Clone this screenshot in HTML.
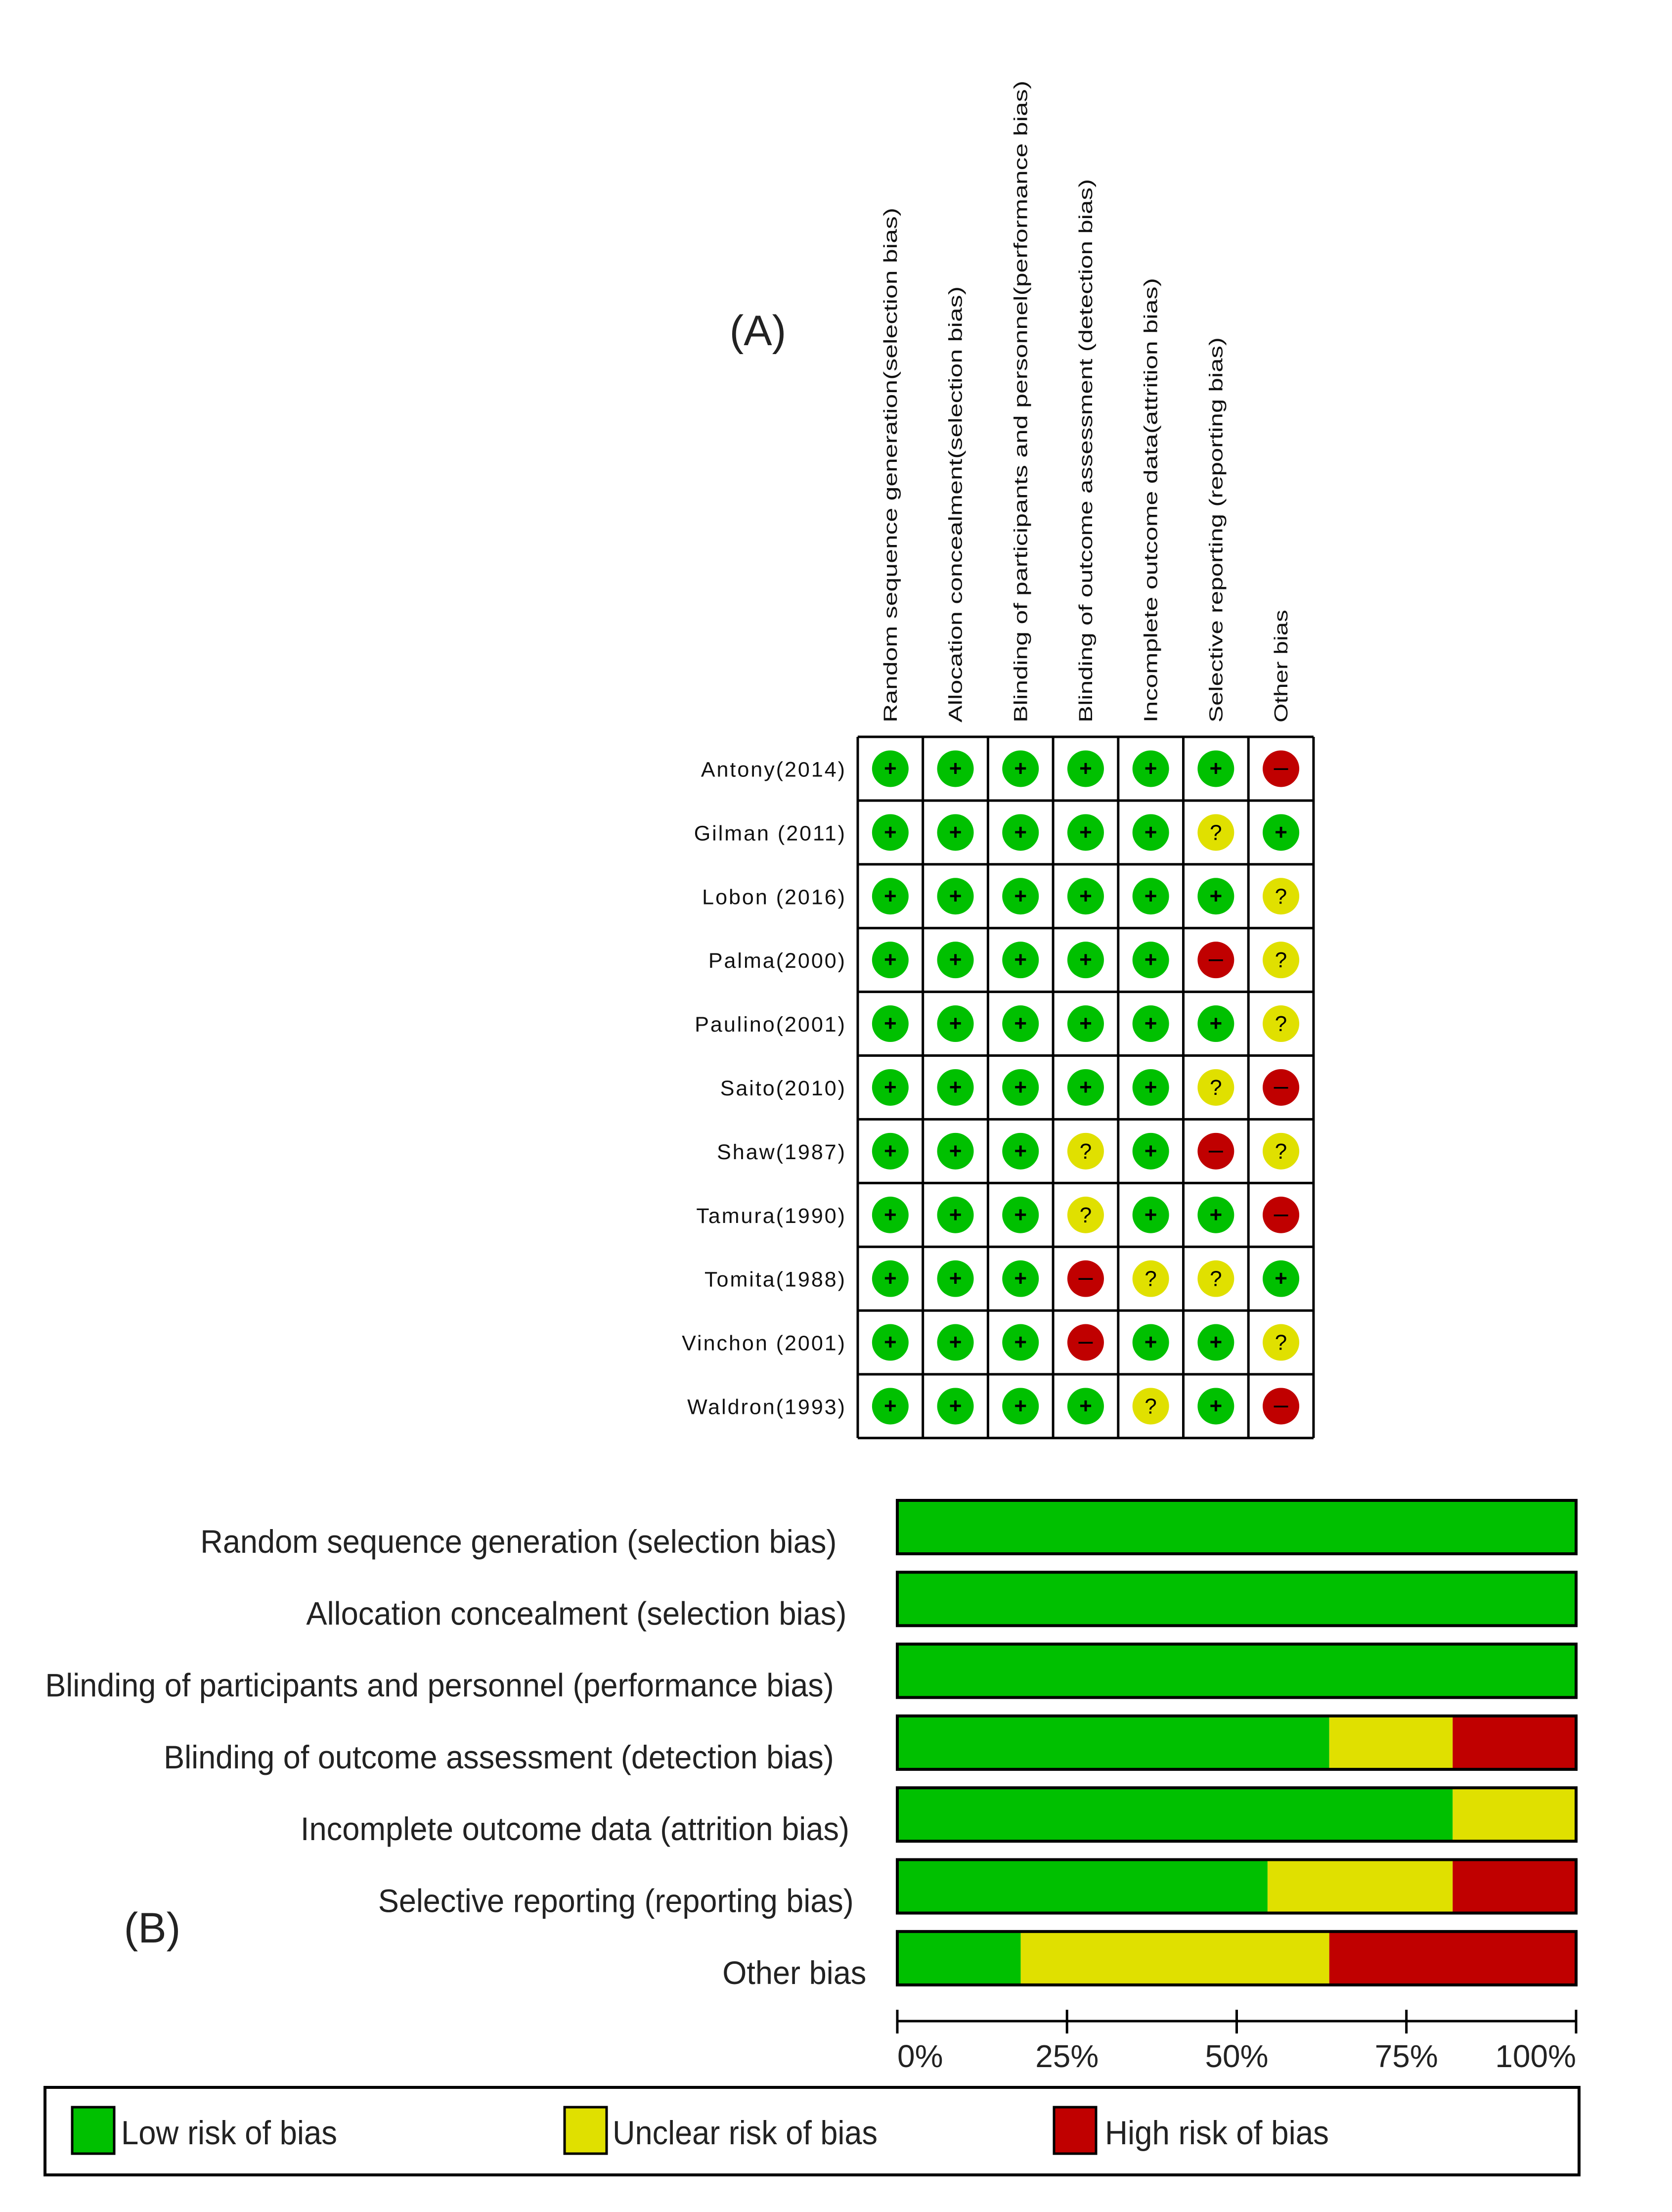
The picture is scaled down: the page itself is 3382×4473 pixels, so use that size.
<!DOCTYPE html>
<html><head><meta charset="utf-8"><style>
html,body{margin:0;padding:0;background:#fff;}
svg{display:block;font-family:"Liberation Sans",sans-serif;}
</style></head><body>
<svg id="chart" width="3382" height="4473" viewBox="0 0 3382 4473" xmlns="http://www.w3.org/2000/svg">
<rect width="3382" height="4473" fill="#fff"/>
<text x="1533" y="698" font-size="86" text-anchor="middle" fill="#222">(A)</text>
<text x="308" y="3928" font-size="86" text-anchor="middle" fill="#222">(B)</text>
<g id="grid"></g>
<g id="bars"></g>
<g id="legend"></g>
</svg>
<script>
const studies = ["Antony(2014)","Gilman (2011)","Lobon (2016)","Palma(2000)","Paulino(2001)","Saito(2010)","Shaw(1987)","Tamura(1990)","Tomita(1988)","Vinchon (2001)","Waldron(1993)"];
const domains = ["Random sequence generation(selection bias)","Allocation concealment(selection bias)","Blinding of participants and personnel(performance bias)","Blinding of outcome assessment (detection bias)","Incomplete outcome data(attrition bias)","Selective reporting (reporting bias)","Other bias"];
const domainLabels = ["Random sequence generation (selection bias)","Allocation concealment (selection bias)","Blinding of participants and personnel (performance bias)","Blinding of outcome assessment (detection bias)","Incomplete outcome data (attrition bias)","Selective reporting (reporting bias)","Other bias"];
// L = low, U = unclear, H = high
const judgements = [
 "LLLLLLH",
 "LLLLLUL",
 "LLLLLLU",
 "LLLLLHU",
 "LLLLLLU",
 "LLLLLUH",
 "LLLULHU",
 "LLLULLH",
 "LLLHUUL",
 "LLLHLLU",
 "LLLLULH"
];
const tickLabels = ["0%","25%","50%","75%","100%"];
const tickValues = [0,25,50,75,100];

const NS="http://www.w3.org/2000/svg";
function mk(tag,attrs,parent){const e=document.createElementNS(NS,tag);for(const k in attrs)e.setAttribute(k,attrs[k]);parent.appendChild(e);return e;}
const COL={L:"#00c000",U:"#e0e000",H:"#c00000"};
const SYM={L:"+",U:"?",H:"\u2013"};

// ---- Panel A grid ----
const grid=document.getElementById('grid');
const gx0=1735,gy0=1490,cw=131.7,rh=128.9;
const gx=i=>gx0+i*cw, gy=j=>gy0+j*rh;
const headTops=[420,579,163,362,562,682,1233];
domains.forEach((d,i)=>{
  const cx=gx(i)+cw/2, by=1461;
  const t=mk('text',{x:0,y:0,transform:`translate(${cx+13},${by}) rotate(-90)`,'font-size':38,fill:'#111',textLength:by-headTops[i],lengthAdjust:'spacingAndGlyphs'},grid);
  
  
  t.textContent=d;
});
studies.forEach((s,j)=>{
  const t=mk('text',{x:1712,y:gy(j)+rh/2+16,'font-size':43,'text-anchor':'end',fill:'#111','letter-spacing':3},grid);
  
  
  t.textContent=s;
  for(let i=0;i<domains.length;i++){
    const v=judgements[j][i];
    const cx=gx(i)+cw/2, cy=gy(j)+rh/2;
    const c=mk('circle',{cx:cx,cy:cy,r:37,fill:COL[v]},grid);
    
    
    const st=mk('text',{x:cx,y:cy+(v==='U'?15:14),'font-size':v==='H'?52:44,'font-weight':v==='L'?'bold':'normal','text-anchor':'middle',fill:'#000'},grid);
    
    
    st.textContent=SYM[v];
  }
});
for(let i=0;i<=domains.length;i++){const l=mk('line',{x1:gx(i),y1:gy0,x2:gx(i),y2:gy(studies.length),stroke:'#000','stroke-width':5},grid);}
for(let j=0;j<=studies.length;j++){const l=mk('line',{x1:gx0,y1:gy(j),x2:gx(domains.length),y2:gy(j),stroke:'#000','stroke-width':5},grid);}

// ---- Panel B bars ----
const bars=document.getElementById('bars');
const bx0=1815,bx1=3188;
const xs=p=>bx0+(bx1-bx0)*p/100;
const by0=3034,bstep=145.3,bh=108;
const labLeft=[142,217,32,116,213,268,512].map(v=>v*2.854);
const labRight=[593,600,591,591,602,605,614].map(v=>v*2.854);
domainLabels.forEach((d,i)=>{
  const n=studies.length;
  let cnt={L:0,U:0,H:0};
  judgements.forEach(r=>cnt[r[i]]++);
  const y=by0+i*bstep;
  let acc=0;
  ["L","U","H"].forEach(k=>{
    const p=cnt[k]/n*100;
    if(p>0){
      const r=mk('rect',{x:xs(acc),y:y,width:xs(acc+p)-xs(acc),height:bh,fill:COL[k]},bars);
      
      
    }
    acc+=p;
  });
  const o=mk('rect',{x:bx0,y:y,width:bx1-bx0,height:bh,fill:'none',stroke:'#000','stroke-width':6},bars);
  
  
  const t=mk('text',{x:labLeft[i],y:y+bh/2+52,'font-size':66,fill:'#222',textLength:labRight[i]-labLeft[i],lengthAdjust:'spacingAndGlyphs'},bars);
  
  
  t.textContent=d;
});
const ax=mk('line',{x1:bx0,y1:4087,x2:bx1,y2:4087,stroke:'#000','stroke-width':5},bars);


tickValues.forEach((v,i)=>{
  const tk=mk('line',{x1:xs(v),y1:4064,x2:xs(v),y2:4112,stroke:'#000','stroke-width':5},bars);
  
  
  const anchor=i===0?'start':(i===tickValues.length-1?'end':'middle');
  const t=mk('text',{x:xs(v),y:4180,'font-size':64,'text-anchor':anchor,fill:'#222'},bars);
  
  
  t.textContent=tickLabels[i];
});

// ---- Legend ----
const lg=document.getElementById('legend');
const box=mk('rect',{x:91,y:4221,width:3103,height:177,fill:'none',stroke:'#000','stroke-width':6},lg);


const legItems=[["L","Low risk of bias",146,245,682],["U","Unclear risk of bias",1142,1239,1775],["H","High risk of bias",2132,2235,2688]];
legItems.forEach(it=>{
  const s=mk('rect',{x:it[2],y:4261,width:85,height:94,fill:COL[it[0]],stroke:'#000','stroke-width':5},lg);
  
  
  const t=mk('text',{x:it[3],y:4336,'font-size':68,fill:'#222',textLength:it[4]-it[3],lengthAdjust:'spacingAndGlyphs'},lg);
  
  
  t.textContent=it[1];
});
</script>
</body></html>
